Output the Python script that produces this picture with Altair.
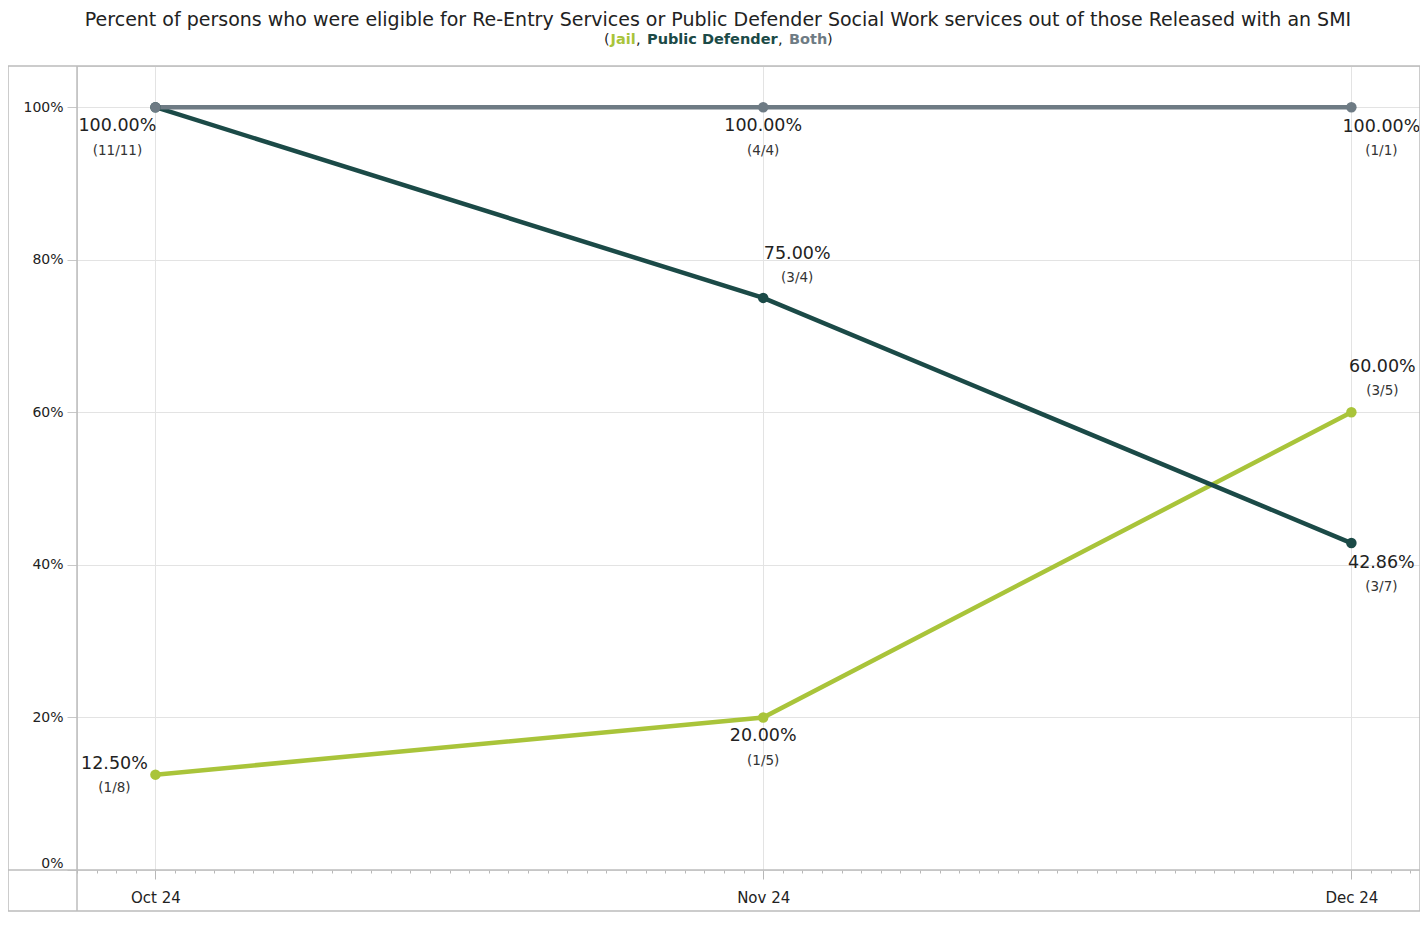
import altair as alt
import pandas as pd

# ---- data ----
months = ["2024-10-01", "2024-11-01", "2024-12-01"]
series_names = ["Jail", "Public Defender", "Both"]
jail_pct = [0.125, 0.20, 0.60]
jail_frac = ["(1/8)", "(1/5)", "(3/5)"]
pd_pct = [1.00, 0.75, 0.4286]
pd_frac = ["(11/11)", "(3/4)", "(3/7)"]
both_pct = [1.00, 1.00, 1.00]
both_frac = ["(11/11)", "(4/4)", "(1/1)"]

title_text = ("Percent of persons who were eligible for Re-Entry Services or Public "
              "Defender Social Work services out of those Released with an SMI")

rows = []
for name, pcts, fracs in [("Jail", jail_pct, jail_frac),
                          ("Public Defender", pd_pct, pd_frac),
                          ("Both", both_pct, both_frac)]:
    for m, p, f in zip(months, pcts, fracs):
        rows.append({"month": m, "series": name, "pct": p, "frac": f})
df = pd.DataFrame(rows)

colors = {"Jail": "#a9c43a", "Public Defender": "#1b4a47", "Both": "#6e7b84"}
FONT = "DejaVu Sans"
W, H = 1343, 804
first_of_month = "date(datum.value) == 1"

x_enc = alt.X("month:T",
              scale=alt.Scale(domain=["2024-09-27", "2024-12-04T12:00:00"]),
              axis=alt.Axis(title=None,
                            tickCount=alt.TimeIntervalStep(interval="day", step=1),
                            labelExpr=f"{first_of_month} ? timeFormat(datum.value, '%b %y') : ''",
                            labelOverlap=False, labelBound=False, labelFlush=False,
                            labelFont=FONT, labelFontSize=15, labelColor="#222",
                            labelPadding=11,
                            tickSize=alt.expr(f"{first_of_month} ? 9 : 3"),
                            tickColor="#b8b8b8", domain=False,
                            gridColor="#e3e3e3", gridWidth=1,
                            gridOpacity=alt.expr(f"{first_of_month} ? 1 : 0")))
y_enc = alt.Y("pct:Q",
              scale=alt.Scale(domain=[0, 1.054], nice=False, zero=True),
              axis=alt.Axis(title=None, values=[0, 0.2, 0.4, 0.6, 0.8, 1.0],
                            format=".0%", labelFont=FONT, labelFontSize=14,
                            labelColor="#222", tickSize=10, tickColor="#c8c8c8",
                            labelPadding=4, domain=False,
                            gridColor="#e3e3e3", gridWidth=1,
                            labelBaseline=alt.expr("datum.value == 0 ? 'bottom' : 'middle'")))

color_enc = alt.Color("series:N",
                      scale=alt.Scale(domain=list(colors.keys()), range=list(colors.values())),
                      legend=None)

base = alt.Chart(df)

lines = base.mark_line(strokeWidth=4.5).encode(
    x=x_enc, y=y_enc, color=color_enc, detail="series:N",
    order=alt.Order("month:T"))
points = base.mark_point(filled=True, size=110, opacity=1).encode(
    x="month:T", y="pct:Q", color=color_enc)

# label placements: (series, month index) -> (dx, dy_pct, dy_frac)
placements = [
    ([("Both", 1), ("Jail", 1)], 0, 19, 44),
    ([("Both", 0)], -38, 19, 44),
    ([("Both", 2), ("Public Defender", 2)], 30, 20, 44),
    ([("Public Defender", 1)], 34, -44, -20),
    ([("Jail", 2)], 31, -45, -21),
    ([("Jail", 0)], -41, -11, 13),
]
label_layers = []
for keys, dx, dyp, dyf in placements:
    cond = " || ".join(
        f"(datum.series == '{s}' && month(datum.month) == {9 + i})" for s, i in keys)
    sub = base.transform_filter(cond)
    label_layers.append(sub.mark_text(font=FONT, fontSize=17.5, color="#222",
                                      dx=dx, dy=dyp).encode(
        x="month:T", y="pct:Q", text=alt.Text("pct:Q", format=".2%")))
    label_layers.append(sub.mark_text(font=FONT, fontSize=13.5, color="#333",
                                      dx=dx, dy=dyf).encode(
        x="month:T", y="pct:Q", text="frac:N"))

# title & coloured subtitle
one = alt.Chart(pd.DataFrame({"t": [title_text]}))
title_mark = one.mark_text(font=FONT, fontSize=19, color="#222", align="center",
                           baseline="top").encode(
    text="t:N", x=alt.value(718 - 77), y=alt.value(11 - 66))

sub_pieces = [("(", "#222", 604), ("Jail", colors["Jail"], 610.5),
              (",", "#222", 636), ("Public Defender", colors["Public Defender"], 647),
              (",", "#222", 778), ("Both", colors["Both"], 789), (")", "#222", 827)]
sub_layers = []
for txt, col, px in sub_pieces:
    sub_layers.append(alt.Chart(pd.DataFrame({"t": [txt]})).mark_text(
        font=FONT, fontSize=14.5, fontWeight="bold" if txt not in "(),"
        else "normal", color=col, align="left", baseline="middle").encode(
        text="t:N", x=alt.value(px - 77), y=alt.value(40 - 66)))

# frame lines (Tableau-like panes)
frame_col = "#bcbcbc"
BOTTOM = 845
frame = alt.Chart(pd.DataFrame({"a": [0]}))
outer = frame.mark_rect(fill=None, stroke=frame_col, strokeWidth=1.5).encode(
    x=alt.value(-69), x2=alt.value(W), y=alt.value(0), y2=alt.value(BOTTOM))
vline = frame.mark_rule(color=frame_col, strokeWidth=1.5).encode(
    x=alt.value(0), y=alt.value(0), y2=alt.value(BOTTOM))
hline = frame.mark_rule(color=frame_col, strokeWidth=1.5).encode(
    x=alt.value(-69), x2=alt.value(W), y=alt.value(H), y2=alt.value(H))

chart = alt.layer(
    lines, points, *label_layers, title_mark, *sub_layers,
    outer, vline, hline
).properties(
    width=W, height=H,
    autosize=alt.AutoSizeParams(type="none"),
    padding={"left": 69, "top": 58, "right": 0, "bottom": 46},
).configure_view(stroke=None).configure(background="white")

chart.save("out.html", embed_options={"renderer": "svg", "actions": False})
